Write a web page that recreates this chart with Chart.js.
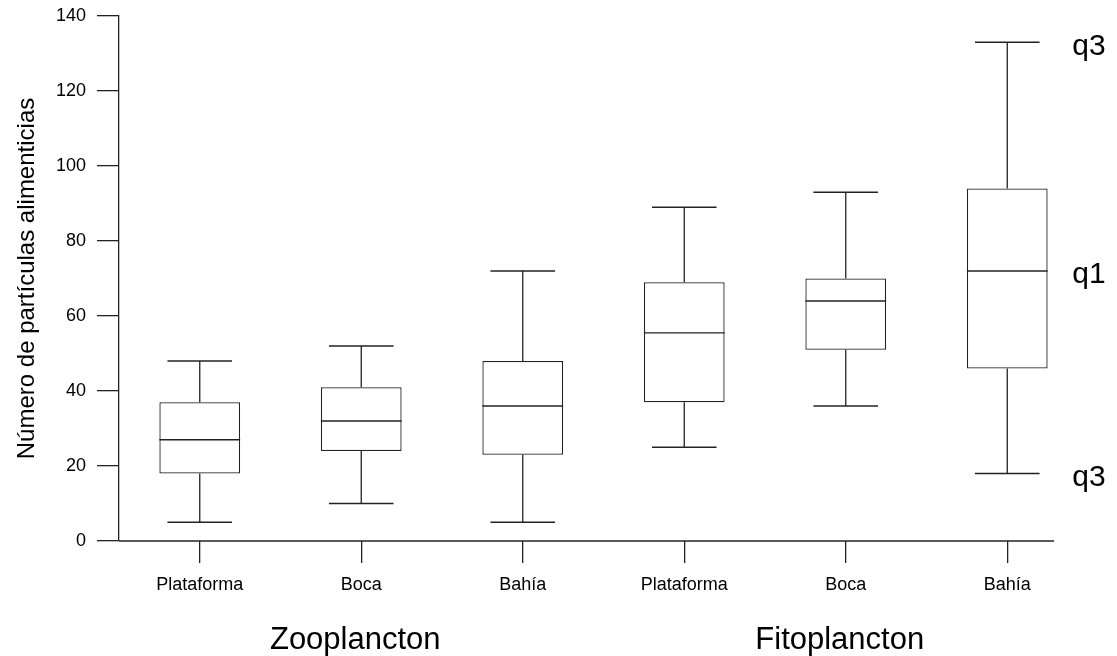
<!DOCTYPE html>
<html>
<head>
<meta charset="utf-8">
<script src="https://cdn.jsdelivr.net/npm/chart.js@4"></script>
<style>
  html, body { margin: 0; padding: 0; background: #fff; }
  #wrap { width: 1117px; height: 656px; }
</style>
</head>
<body>
<div id="wrap"><canvas id="chart" width="1117" height="656"></canvas></div>
<script>
// box plot values
const categories = ['Plataforma', 'Boca', 'Bahía', 'Plataforma', 'Boca', 'Bahía']
const minVals = [5, 10, 5, 25, 36, 18]
const q1Vals = [18, 24, 23, 37, 51, 46]
const medianVals = [27, 32, 36, 55.5, 64, 72]
const q3Vals = [37, 41, 48, 69, 70, 94]
const maxVals = [48, 52, 72, 89, 93, 133]

const yTicks = [0, 20, 40, 60, 80, 100, 120, 140]
const groupLabels = ['Zooplancton', 'Fitoplancton']
const groupCenters = [1, 4] // category index under which each group name sits

// the loose labels at the right of the last box
const noteLabels = ['q3', 'q1', 'q3']
const noteValues = [133, 72, 18]

const FONT = "'Liberation Sans', Arial, Helvetica, sans-serif"
const INK = '#222'

// whiskers, caps, medians and the extra text, all placed through the scales
const boxExtras = {
  id: 'boxExtras',
  afterDatasetsDraw(chart) {
    const { ctx, scales: { x, y } } = chart
    const bars = chart.getDatasetMeta(0).data
    ctx.save()
    ctx.strokeStyle = INK
    ctx.lineWidth = 1.3
    const line = (x1, y1, x2, y2) => {
      ctx.beginPath(); ctx.moveTo(x1, y1); ctx.lineTo(x2, y2); ctx.stroke()
    }
    bars.forEach((bar, i) => {
      const cx = bar.x
      const half = bar.width / 2
      const cap = bar.width * 0.4
      const yMax = y.getPixelForValue(maxVals[i])
      const yMin = y.getPixelForValue(minVals[i])
      const yQ1 = y.getPixelForValue(q1Vals[i])
      const yQ3 = y.getPixelForValue(q3Vals[i])
      const yMed = y.getPixelForValue(medianVals[i])
      line(cx, yQ3, cx, yMax)
      line(cx - cap, yMax, cx + cap, yMax)
      line(cx, yQ1, cx, yMin)
      line(cx - cap, yMin, cx + cap, yMin)
      line(cx - half, yMed, cx + half, yMed)
    })

    // x axis line, stops short of the right edge like the original
    const step = x.width / categories.length
    const yBase = y.getPixelForValue(0)
    line(chart.chartArea.left, yBase, x.getPixelForValue(categories.length - 1) + step * 0.29, yBase)

    ctx.fillStyle = '#000'
    // group names under the categories
    ctx.font = '31px ' + FONT
    ctx.textAlign = 'center'
    ctx.textBaseline = 'alphabetic'
    groupLabels.forEach((g, i) => {
      ctx.fillText(g, x.getPixelForValue(groupCenters[i]) - 6, 649)
    })

    // q labels beside the last box
    ctx.font = '30px ' + FONT
    ctx.textAlign = 'left'
    ctx.textBaseline = 'middle'
    const lastX = bars[bars.length - 1].x
    noteLabels.forEach((t, i) => {
      ctx.fillText(t, lastX + 65, y.getPixelForValue(noteValues[i]) + 4)
    })
    ctx.restore()
  }
}

const ctx = document.getElementById('chart').getContext('2d')

new Chart(ctx, {
  type: 'bar',
  data: {
    labels: categories,
    datasets: [{
      label: 'caja',
      data: q1Vals.map((v, i) => [v, q3Vals[i]]),
      backgroundColor: '#fff',
      borderColor: INK,
      borderWidth: 1.3,
      borderSkipped: false,
      barPercentage: 0.5,
      categoryPercentage: 1.0
    }]
  },
  options: {
    responsive: false,
    animation: false,
    layout: { padding: { top: 16, right: 29, bottom: 0, left: 0 } },
    plugins: {
      legend: { display: false },
      tooltip: { enabled: false }
    },
    scales: {
      x: {
        offset: true,
        border: { display: false },
        grid: {
          offset: false,
          drawOnChartArea: false,
          drawTicks: true,
          tickLength: 22,
          tickColor: INK,
          lineWidth: 1.3
        },
        ticks: {
          color: '#000',
          padding: 11,
          maxRotation: 0,
          autoSkip: false,
          font: { family: FONT, size: 18 }
        },
        afterFit: s => { s.height = 115 }
      },
      y: {
        min: 0,
        max: 140,
        afterBuildTicks: s => { s.ticks = yTicks.map(v => ({ value: v })) },
        border: { display: true, color: INK, width: 1.3 },
        grid: {
          drawOnChartArea: false,
          drawTicks: true,
          tickLength: 22,
          tickColor: INK,
          lineWidth: 1.3
        },
        ticks: {
          color: '#000',
          padding: 11,
          font: { family: FONT, size: 18 }
        },
        title: {
          display: true,
          text: 'Número de partículas alimenticias',
          color: '#000',
          padding: { top: 13, bottom: 0 },
          font: { family: FONT, size: 24 }
        },
        afterFit: s => {
          s.width = 119
          s.paddingTop = 0
          s.paddingBottom = 0
        }
      }
    }
  },
  plugins: [boxExtras]
})
</script>
</body>
</html>
